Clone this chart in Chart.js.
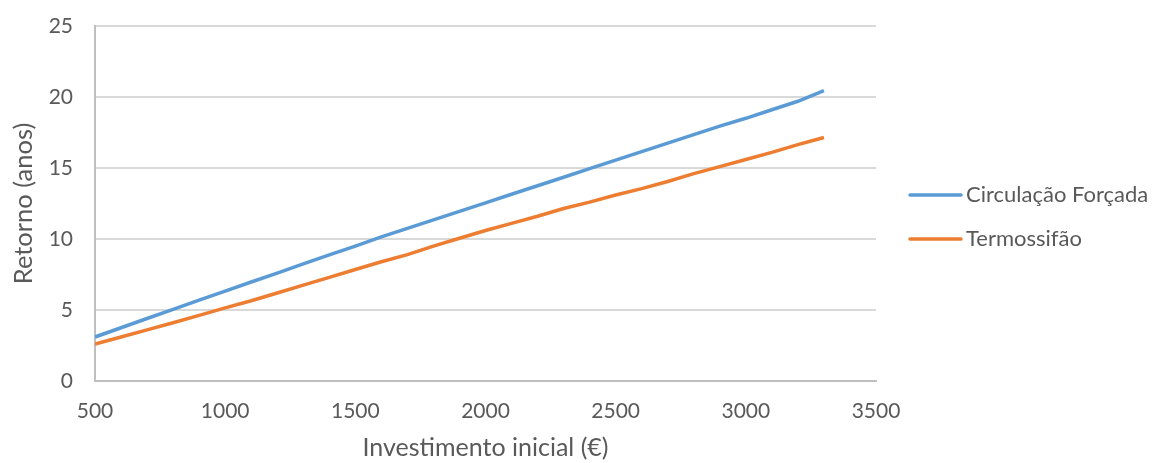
<!DOCTYPE html>
<html>
<head>
<meta charset="utf-8">
<script src="https://cdn.jsdelivr.net/npm/chart.js@4"></script>
<style>
  html, body { margin: 0; padding: 0; background: #fff; }
  #wrap { width: 1157px; height: 463px; }
</style>
</head>
<body>
<div id="wrap"><canvas id="chart" width="1157" height="463"></canvas></div>
<script>
const investimento = [500, 600, 700, 800, 900, 1000, 1100, 1200, 1300, 1400, 1500, 1600, 1700, 1800, 1900,
  2000, 2100, 2200, 2300, 2400, 2500, 2600, 2700, 2800, 2900, 3000, 3100, 3200, 3300];
const circulacaoForcada = [3.1, 3.75, 4.4, 5.05, 5.7, 6.33, 6.97, 7.6, 8.25, 8.88, 9.5, 10.15, 10.75, 11.35, 11.95,
  12.55, 13.15, 13.75, 14.35, 14.95, 15.55, 16.15, 16.75, 17.35, 17.95, 18.5, 19.1, 19.7, 20.45];
const termossifao = [2.6, 3.1, 3.6, 4.1, 4.62, 5.15, 5.65, 6.2, 6.75, 7.3, 7.85, 8.4, 8.9, 9.5, 10.05,
  10.6, 11.1, 11.6, 12.15, 12.6, 13.1, 13.55, 14.05, 14.6, 15.1, 15.6, 16.1, 16.65, 17.15];
const seriesNames = ['Circulação Forçada', 'Termossifão'];
const seriesColors = ['#5b9bd5', '#ed7d31'];
const xTitle = 'Investimento inicial (€)';
const yTitle = 'Retorno (anos)';

const fram = document.getElementById('chart');
const fontFam = 'Lato, "Open Sans", sans-serif';
const textCol = '#595959';

function pts(ys) {
  return investimento.map((x, i) => ({ x: x, y: ys[i] }));
}

// legend drawn by hand so it sits where the original one is
const sideLegend = {
  id: 'sideLegend',
  afterDraw(chart) {
    const ctx = chart.ctx;
    ctx.save();
    ctx.font = '22px ' + fontFam;
    ctx.textBaseline = 'middle';
    chart.data.datasets.forEach((ds, i) => {
      const y = 195 + i * 44;
      ctx.strokeStyle = ds.borderColor;
      ctx.lineWidth = 3.5;
      ctx.lineCap = 'round';
      ctx.beginPath();
      ctx.moveTo(910, y);
      ctx.lineTo(961, y);
      ctx.stroke();
      ctx.fillStyle = textCol;
      ctx.fillText(ds.label, 966, y);
    });
    ctx.restore();
  }
};

new Chart(fram, {
  type: 'line',
  data: {
    datasets: [
      { label: seriesNames[0], data: pts(circulacaoForcada), borderColor: seriesColors[0], borderWidth: 3.5, pointRadius: 0, tension: 0 },
      { label: seriesNames[1], data: pts(termossifao), borderColor: seriesColors[1], borderWidth: 3.5, pointRadius: 0, tension: 0 }
    ]
  },
  options: {
    responsive: false,
    animation: false,
    layout: { padding: { left: 0, right: 281, top: 26, bottom: 0 } },
    plugins: { legend: { display: false }, tooltip: { enabled: false } },
    scales: {
      x: {
        type: 'linear',
        min: 500, max: 3500,
        ticks: { stepSize: 500, color: textCol, font: { family: fontFam, size: 21 }, padding: 18,
          callback: (v) => String(v) },
        grid: { display: false, drawTicks: false },
        border: { display: true, color: '#bfbfbf', width: 2 },
        title: { display: true, text: xTitle, color: textCol, font: { family: fontFam, size: 25 }, padding: { top: 2, bottom: 0 } },
        afterFit(scale) { scale.height = 82; }
      },
      y: {
        min: 0, max: 25,
        ticks: { stepSize: 5, color: textCol, font: { family: fontFam, size: 21 }, padding: 22 },
        grid: { color: '#d9d9d9', lineWidth: 2, drawTicks: false },
        border: { display: true, color: '#bfbfbf', width: 2 },
        title: { display: true, text: yTitle, color: textCol, font: { family: fontFam, size: 25.5 }, padding: { top: 8, bottom: 0 } },
        afterFit(scale) {
          scale.width = 95;
          scale.paddingTop = 0;
          scale.paddingBottom = 0;
        }
      }
    }
  },
  plugins: [sideLegend]
});
</script>
</body>
</html>
